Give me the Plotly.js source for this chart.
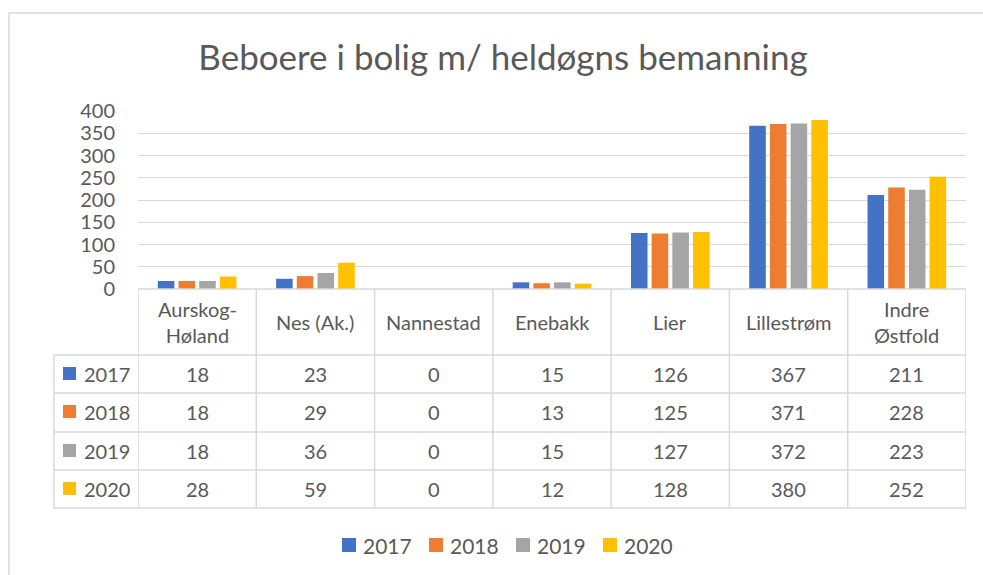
<!DOCTYPE html>
<html><head><meta charset="utf-8">
<script src="https://cdn.plot.ly/plotly-3.0.1.min.js"></script>
<style>html,body{margin:0;padding:0;background:#fff}#chart{width:983px;height:575px}</style>
</head><body><div id="chart"></div>
<script>
const categories = ["Aurskog-Høland","Nes (Ak.)","Nannestad","Enebakk","Lier","Lillestrøm","Indre Østfold"];
const headerLabels = ["Aurskog-<br>Høland","Nes (Ak.)","Nannestad","Enebakk","Lier","Lillestrøm","Indre<br>Østfold"];
const seriesNames = ["2017","2018","2019","2020"];
const v2017 = [18,23,0,15,126,367,211];
const v2018 = [18,29,0,13,125,371,228];
const v2019 = [18,36,0,15,127,372,223];
const v2020 = [28,59,0,12,128,380,252];
const seriesValues = [v2017,v2018,v2019,v2020];
const seriesColors = ["#4472C4","#ED7D31","#A5A5A5","#FFC000"];
const yTicks = [0,50,100,150,200,250,300,350,400];
const titleText = "Beboere i bolig m/ heldøgns bemanning";

const W = 983, H = 575;
const px = x => x / W;
const py = y => 1 - y / H;
const FONT = "Lato, 'Open Sans', sans-serif";
const TXT = "#595959";
const GRID = "#d9d9d9";

const traces = seriesNames.map((n, i) => ({
  type: "bar", name: n, x: categories, y: seriesValues[i],
  marker: {color: seriesColors[i]}, hoverinfo: "skip", showlegend: false
}));

const rowEdges = [355, 393, 432, 470, 508];
const rowCenters = [374, 412, 451, 489];
const shapes = [];
const annotations = [];

// outer frame of whole chart
shapes.push({type:"rect", xref:"paper", yref:"paper", x0:px(9), x1:px(990), y0:py(13), y1:py(590), line:{color:GRID, width:1.5}});
// horizontal table lines
shapes.push({type:"line", xref:"paper", yref:"paper", x0:px(138), x1:px(966), y0:py(289), y1:py(289), line:{color:GRID, width:1.5}});
rowEdges.forEach(y => shapes.push({type:"line", xref:"paper", yref:"paper", x0:px(54), x1:px(966), y0:py(y), y1:py(y), line:{color:GRID, width:1.5}}));
// vertical table lines via category axis
for (let i = 0; i <= categories.length; i++) {
  shapes.push({type:"line", xref:"x", yref:"paper", x0:i-0.5, x1:i-0.5, y0:py(289), y1:py(508), line:{color:GRID, width:1.5}});
}
shapes.push({type:"line", xref:"paper", yref:"paper", x0:px(54), x1:px(54), y0:py(355), y1:py(508), line:{color:GRID, width:1.5}});

// header labels
headerLabels.forEach((lab, j) => annotations.push({x:categories[j], xref:"x", y:py(322), yref:"paper", text:lab, showarrow:false, font:{family:FONT, size:20, color:TXT}, xanchor:"center", yanchor:"middle"}));
// values and row keys
seriesNames.forEach((n, i) => {
  const yc = rowCenters[i];
  shapes.push({type:"rect", xref:"paper", yref:"paper", x0:px(63), x1:px(76), y0:py(yc-7), y1:py(yc+6), fillcolor:seriesColors[i], line:{width:0}});
  annotations.push({x:px(82), xref:"paper", y:py(yc), yref:"paper", text:n, showarrow:false, xanchor:"left", yanchor:"middle", font:{family:FONT, size:20, color:TXT}});
  seriesValues[i].forEach((v, j) => annotations.push({x:categories[j], xref:"x", y:py(yc), yref:"paper", text:String(v), showarrow:false, xanchor:"center", yanchor:"middle", font:{family:FONT, size:20, color:TXT}}));
  // bottom legend entry
  const lx = 342 + i * 87;
  shapes.push({type:"rect", xref:"paper", yref:"paper", x0:px(lx), x1:px(lx+14), y0:py(538), y1:py(552), fillcolor:seriesColors[i], line:{width:0}});
  annotations.push({x:px(lx+19), xref:"paper", y:py(545), yref:"paper", text:n, showarrow:false, xanchor:"left", yanchor:"middle", font:{family:FONT, size:21, color:TXT}});
});

const layout = {
  width: W, height: H,
  margin: {l:0, r:0, t:0, b:0},
  paper_bgcolor: "#fff", plot_bgcolor: "#fff",
  font: {family: FONT, color: TXT, size: 20},
  title: {text: titleText, font:{family:FONT, size:35, color:TXT}, x:px(503), xanchor:"center", y:py(58), yanchor:"middle", xref:"paper", yref:"paper"},
  barmode: "group", bargap: 0.3, bargroupgap: 0.2,
  xaxis: {domain:[px(138), px(966)], range:[-0.5, 6.5], showticklabels:false, showgrid:false, zeroline:false, showline:false, ticks:"", type:"category"},
  yaxis: {domain:[py(289), py(111)], range:[0,400], tickvals:yTicks, ticktext:yTicks.map(String), showgrid:true, gridcolor:GRID, gridwidth:1, zeroline:false, showline:false, ticks:"", ticklabelstandoff:22, tickfont:{family:FONT, size:20, color:TXT}},
  showlegend: false,
  shapes, annotations
};
Plotly.newPlot("chart", traces, layout, {staticPlot:true, displayModeBar:false});
</script>
</body></html>
